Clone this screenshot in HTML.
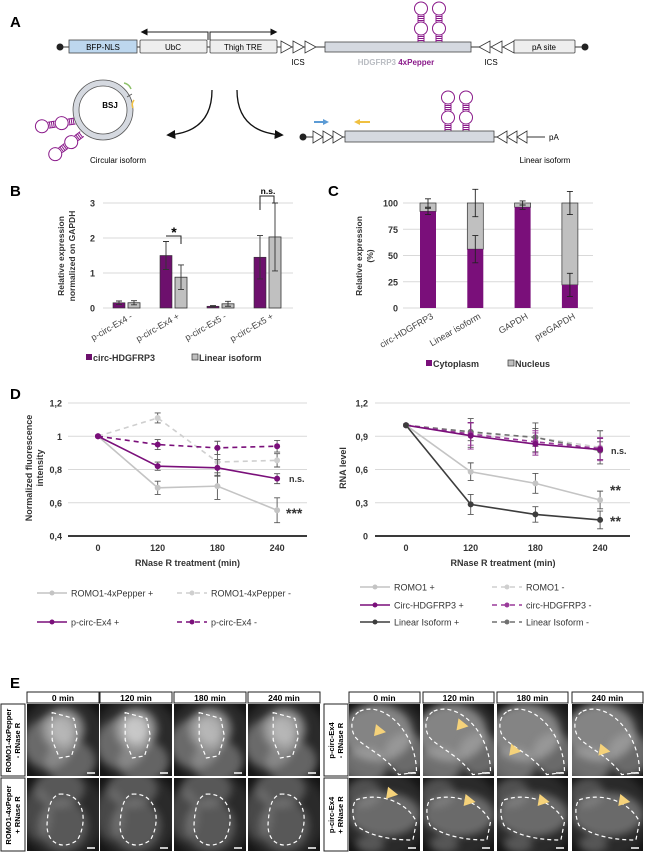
<!DOCTYPE html>
<html><head><meta charset="utf-8">
<style>
html,body{margin:0;padding:0;background:#fff;}
svg{display:block;font-family:"Liberation Sans",Arial,sans-serif;}
</style></head>
<body>
<svg id="fig" width="646" height="854" viewBox="0 0 646 854" xmlns="http://www.w3.org/2000/svg">
<defs>
<marker id="ah" viewBox="0 0 10 10" refX="8" refY="5" markerWidth="7" markerHeight="7" orient="auto"><path d="M0,0 L10,5 L0,10 z" fill="#111"/></marker>
<filter id="bl" x="-50%" y="-50%" width="200%" height="200%"><feGaussianBlur stdDeviation="4"/></filter>
</defs>

<!-- PANEL A -->
<g id="panelA">
<text x="10" y="27" font-size="15" font-weight="bold">A</text>
<line x1="60" y1="47" x2="585" y2="47" stroke="#333" stroke-width="1"/>
<circle cx="60" cy="47" r="3.5" fill="#222"/>
<circle cx="585" cy="47" r="3.5" fill="#222"/>
<rect x="69" y="40" width="68" height="13" fill="#bdd7ee" stroke="#444" stroke-width="0.8"/>
<text x="103" y="50" font-size="8" text-anchor="middle">BFP-NLS</text>
<rect x="140" y="40" width="67" height="13" rx="1" fill="#eeeeee" stroke="#444" stroke-width="0.8"/>
<text x="173" y="50" font-size="8" text-anchor="middle">UbC</text>
<rect x="210" y="40" width="67" height="13" rx="1" fill="#eeeeee" stroke="#444" stroke-width="0.8"/>
<text x="243" y="50" font-size="8" text-anchor="middle">Thigh TRE</text>
<path d="M208,40 V32 H142" fill="none" stroke="#222" stroke-width="1" marker-end="url(#ah)"/>
<path d="M210,40 V32 H276" fill="none" stroke="#222" stroke-width="1" marker-end="url(#ah)"/>
<g fill="#fff" stroke="#333" stroke-width="0.8">
<path d="M281,41 L292,47 L281,53 z"/><path d="M293,41 L304,47 L293,53 z"/><path d="M305,41 L316,47 L305,53 z"/>
<path d="M490,41 L479,47 L490,53 z"/><path d="M502,41 L491,47 L502,53 z"/><path d="M514,41 L503,47 L514,53 z"/>
</g>
<text x="298" y="65" font-size="8" text-anchor="middle">ICS</text>
<text x="491" y="65" font-size="8" text-anchor="middle">ICS</text>
<rect x="325" y="42" width="146" height="10" fill="#d5d9e0" stroke="#444" stroke-width="0.8"/>
<rect x="514" y="40" width="61" height="13" rx="1" fill="#eeeeee" stroke="#444" stroke-width="0.8"/>
<text x="544" y="50" font-size="8" text-anchor="middle">pA site</text>
<text x="396" y="65" font-size="8" text-anchor="middle" font-weight="bold"><tspan fill="#b9bcc2">HDGFRP3 </tspan><tspan fill="#8a1a8a">4xPepper</tspan></text>
<g id="hairpins"></g>
<circle cx="103" cy="110" r="27" fill="none" stroke="#d5d9e0" stroke-width="6"/>
<circle cx="103" cy="110" r="30" fill="none" stroke="#555" stroke-width="0.8"/>
<circle cx="103" cy="110" r="24" fill="none" stroke="#555" stroke-width="0.8"/>
<line x1="127" y1="97" x2="132" y2="94" stroke="#555" stroke-width="0.8"/>
<path d="M124,83 Q129,84 131,89" fill="none" stroke="#8cc068" stroke-width="1.5"/>
<path d="M134,100 Q131,104 133,108" fill="none" stroke="#f0c040" stroke-width="1.5"/>
<text x="110" y="108" font-size="8" font-weight="bold" text-anchor="middle">BSJ</text>
<text x="118" y="163" font-size="8" text-anchor="middle">Circular isoform</text>
<path d="M212,90 Q212,132 168,135" fill="none" stroke="#111" stroke-width="1.3" marker-end="url(#ah)"/>
<path d="M237,90 Q237,132 282,135" fill="none" stroke="#111" stroke-width="1.3" marker-end="url(#ah)"/>
<line x1="303" y1="137" x2="545" y2="137" stroke="#333" stroke-width="1"/>
<circle cx="303" cy="137" r="3.5" fill="#222"/>
<g fill="#fff" stroke="#333" stroke-width="0.8">
<path d="M313,131 L323,137 L313,143 z"/><path d="M323,131 L333,137 L323,143 z"/><path d="M333,131 L343,137 L333,143 z"/>
<path d="M507,131 L497,137 L507,143 z"/><path d="M517,131 L507,137 L517,143 z"/><path d="M527,131 L517,137 L527,143 z"/>
</g>
<rect x="345" y="131" width="149" height="11" fill="#d5d9e0" stroke="#444" stroke-width="0.8"/>
<text x="549" y="140" font-size="8">pA</text>
<path d="M314,122 H326" stroke="#5b9bd5" stroke-width="2"/><path d="M323,119 L329,122 L323,125 z" fill="#5b9bd5"/>
<path d="M360,122 H370" stroke="#f0c040" stroke-width="2"/><path d="M360,119 L354,122 L360,125 z" fill="#f0c040"/>
<text x="545" y="163" font-size="8" text-anchor="middle">Linear isoform</text>
</g>

<g id="panelB"></g>
<g id="panelC"></g>
<g id="panelD1"></g>
<g id="panelD2"></g>
<g id="panelE"></g>
</svg>

<script>
// ===== Panel B data =====
const bCats = ["p-circ-Ex4 -", "p-circ-Ex4 +", "p-circ-Ex5 -", "p-circ-Ex5 +"];
const bCirc = [0.15, 1.5, 0.05, 1.45];
const bCircErr = [0.05, 0.4, 0.02, 0.62];
const bLin = [0.15, 0.88, 0.12, 2.03];
const bLinErr = [0.06, 0.35, 0.07, 0.97];
const bTicks = [0, 1, 2, 3];
// ===== Panel C data =====
const cCats = ["circ-HDGFRP3", "Linear isoform", "GAPDH", "preGAPDH"];
const cCyt = [92, 56, 96, 22];
const cCytErr = [3, 13, 2, 11];
const cNucErr = [4, 13, 2, 11];
const cTicks = [0, 25, 50, 75, 100];
// ===== Panel D data =====
const dCats = ["0", "120", "180", "240"];
const dLeftTicks = [0.4, 0.6, 0.8, 1.0, 1.2];
const dLeftTickLabels = ["0,4", "0,6", "0,8", "1", "1,2"];
const romoPepPlus = [1, 0.69, 0.70, 0.555];
const romoPepPlusErr = [0, 0.04, 0.08, 0.075];
const romoPepMinus = [1, 1.11, 0.845, 0.855];
const romoPepMinusErr = [0, 0.03, 0.08, 0.04];
const pcircPlus = [1, 0.82, 0.81, 0.745];
const pcircPlusErr = [0, 0.025, 0.05, 0.03];
const pcircMinus = [1, 0.95, 0.93, 0.94];
const pcircMinusErr = [0, 0.03, 0.04, 0.035];
const dRightTicks = [0, 0.3, 0.6, 0.9, 1.2];
const dRightTickLabels = ["0", "0,3", "0,6", "0,9", "1,2"];
const romoPlus = [1, 0.58, 0.475, 0.325];
const romoPlusErr = [0, 0.08, 0.09, 0.08];
const romoMinus = [1, 0.93, 0.89, 0.80];
const romoMinusErr = [0, 0.13, 0.13, 0.15];
const circPlus = [1, 0.905, 0.83, 0.78];
const circPlusErr = [0, 0.12, 0.1, 0.1];
const circMinus = [1, 0.92, 0.85, 0.79];
const circMinusErr = [0, 0.1, 0.1, 0.1];
const linPlus = [1, 0.285, 0.195, 0.145];
const linPlusErr = [0, 0.09, 0.07, 0.08];
const linMinus = [1, 0.94, 0.89, 0.77];
const linMinusErr = [0, 0.08, 0.08, 0.08];

const NS = "http://www.w3.org/2000/svg";
function mk(parent, tag, attrs, text) {
  const e = document.createElementNS(NS, tag);
  for (const k in attrs) e.setAttribute(k, attrs[k]);
  if (text !== undefined) e.textContent = text;
  parent.appendChild(e);
  return e;
}
const PURPLE = "#7a0f7a", GRAY = "#c0c0c0";

function hairpin(parent, x, base, transform) {
  const g = mk(parent, "g", {fill: "none", stroke: "#8a1a8a", "stroke-width": "1"});
  
  
  if (transform) g.setAttribute("transform", transform);
  const sw = 3;
  [[base, base - 7], [base - 20, base - 27]].forEach(([a, b]) => {
    mk(g, "line", {x1: x - sw, y1: a, x2: x - sw, y2: b});
    mk(g, "line", {x1: x + sw, y1: a, x2: x + sw, y2: b});
    for (let y = a - 1.5; y > b; y -= 2) mk(g, "line", {x1: x - sw, y1: y, x2: x + sw, y2: y});
  });
  mk(g, "circle", {cx: x, cy: base - 13.5, r: 6.5, fill: "#fff"});
  mk(g, "circle", {cx: x, cy: base - 33.5, r: 6.5, fill: "#fff"});
}
const hp = document.getElementById("hairpins");
hairpin(hp, 421, 42); hairpin(hp, 439, 42);
hairpin(hp, 448, 131); hairpin(hp, 466, 131);
hairpin(hp, 0, 0, "translate(75,121) rotate(-99)");
hairpin(hp, 0, 0, "translate(82,134) rotate(-127)");

// ===== Panel B =====
(function () {
  const g = document.getElementById("panelB");
  const yB = v => 308 - v * 35;
  const xB = i => 127 + 47 * i;
  mk(g, "text", {x: 10, y: 196, "font-size": 15, "font-weight": "bold"}, "B");
  bTicks.forEach(t => {
    mk(g, "line", {x1: 103, x2: 293, y1: yB(t), y2: yB(t), stroke: "#d9d9d9", "stroke-width": 1});
    const tl = mk(g, "text", {x: 95, y: yB(t) + 3.5, "font-size": 9, "font-weight": "bold", "text-anchor": "end", fill: "#333"}, String(t));
    
    
  });
  const yt = mk(g, "text", {transform: "translate(64,256) rotate(-90)", "font-size": 8.5, "font-weight": "bold", "text-anchor": "middle", fill: "#333"});
  
  
  mk(yt, "tspan", {x: 0, dy: 0}, "Relative expression");
  mk(yt, "tspan", {x: 0, dy: 11}, "normalized on GAPDH");
  bCats.forEach((c, i) => {
    const cx = xB(i);
    const r1 = mk(g, "rect", {x: cx - 14, y: yB(bCirc[i]), width: 12, height: yB(0) - yB(bCirc[i]), fill: "#6d106d", stroke: "#333", "stroke-width": 0.6});
    
    
    const r2 = mk(g, "rect", {x: cx + 1, y: yB(bLin[i]), width: 12, height: yB(0) - yB(bLin[i]), fill: GRAY, stroke: "#333", "stroke-width": 0.8});
    
    
    [[cx - 8, bCirc[i], bCircErr[i]], [cx + 7, bLin[i], bLinErr[i]]].forEach(([x, v, e]) => {
      mk(g, "path", {d: `M${x},${yB(v + e)}V${yB(Math.max(0, v - e))}M${x - 3},${yB(v + e)}H${x + 3}M${x - 3},${yB(Math.max(0, v - e))}H${x + 3}`, stroke: "#333", "stroke-width": 0.9, fill: "none"});
    });
    const xl = mk(g, "text", {transform: `translate(${cx + 6},318) rotate(-30)`, "font-size": 9, "text-anchor": "end", fill: "#444"}, c);
    
    
  });
  mk(g, "path", {d: "M166,236 H181 V244", fill: "none", stroke: "#222", "stroke-width": 1});
  mk(g, "text", {x: 174, y: 237, "font-size": 14, "font-weight": "bold", "text-anchor": "middle"}, "*");
  mk(g, "path", {d: "M260,210 V196 H274 V203", fill: "none", stroke: "#222", "stroke-width": 1});
  mk(g, "text", {x: 268, y: 194, "font-size": 8.5, "font-weight": "bold", "text-anchor": "middle"}, "n.s.");
  const l1 = mk(g, "g", {});
  
  
  mk(l1, "rect", {x: 86, y: 354, width: 6, height: 6, fill: "#6d106d"});
  mk(l1, "text", {x: 93, y: 361, "font-size": 9, "font-weight": "bold", fill: "#333"}, "circ-HDGFRP3");
  const l2 = mk(g, "g", {});
  
  
  mk(l2, "rect", {x: 192, y: 354, width: 6, height: 6, fill: GRAY, stroke: "#333", "stroke-width": 0.7});
  mk(l2, "text", {x: 199, y: 361, "font-size": 9, "font-weight": "bold", fill: "#333"}, "Linear isoform");
})();

// ===== Panel C =====
(function () {
  const g = document.getElementById("panelC");
  const yC = v => 308 - v * 1.05;
  const xC = i => 428 + 47.3 * i;
  mk(g, "text", {x: 328, y: 196, "font-size": 15, "font-weight": "bold"}, "C");
  cTicks.forEach(t => {
    mk(g, "line", {x1: 403, x2: 593, y1: yC(t), y2: yC(t), stroke: "#d9d9d9", "stroke-width": 1});
    const tl = mk(g, "text", {x: 398, y: yC(t) + 3.5, "font-size": 9, "font-weight": "bold", "text-anchor": "end", fill: "#333"}, String(t));
    
    
  });
  const yt = mk(g, "text", {transform: "translate(362,256) rotate(-90)", "font-size": 8.5, "font-weight": "bold", "text-anchor": "middle", fill: "#333"});
  
  
  mk(yt, "tspan", {x: 0, dy: 0}, "Relative expression");
  mk(yt, "tspan", {x: 0, dy: 11}, "(%)");
  cCats.forEach((c, i) => {
    const cx = xC(i);
    const n = mk(g, "rect", {x: cx - 8, y: yC(100), width: 16, height: yC(cCyt[i]) - yC(100), fill: GRAY, stroke: "#333", "stroke-width": 0.7});
    
    
    const r = mk(g, "rect", {x: cx - 8, y: yC(cCyt[i]), width: 16, height: yC(0) - yC(cCyt[i]), fill: "#7a0f7a"});
    
    
    [[cCyt[i], cCytErr[i]], [100, cNucErr[i]]].forEach(([v, e]) => {
      mk(g, "path", {d: `M${cx},${yC(v + e)}V${yC(v - e)}M${cx - 3},${yC(v + e)}H${cx + 3}M${cx - 3},${yC(v - e)}H${cx + 3}`, stroke: "#222", "stroke-width": 0.9, fill: "none"});
    });
    const xl = mk(g, "text", {transform: `translate(${cx + 6},318) rotate(-30)`, "font-size": 9, "text-anchor": "end", fill: "#444"}, c);
    
    
  });
  const l1 = mk(g, "g", {});
  
  
  mk(l1, "rect", {x: 426, y: 360, width: 6, height: 6, fill: "#7a0f7a"});
  mk(l1, "text", {x: 433, y: 367, "font-size": 9, "font-weight": "bold", fill: "#333"}, "Cytoplasm");
  const l2 = mk(g, "g", {});
  
  
  mk(l2, "rect", {x: 508, y: 360, width: 6, height: 6, fill: GRAY, stroke: "#333", "stroke-width": 0.7});
  mk(l2, "text", {x: 515, y: 367, "font-size": 9, "font-weight": "bold", fill: "#333"}, "Nucleus");
})();

// ===== Panel D =====
function lineChart(g, cfg) {
  const {x, y, ticks, tickLabels, x1, x2, tickX, series, yTitle, yTitleX} = cfg;
  ticks.forEach((t, k) => {
    if (k > 0) mk(g, "line", {x1: x1, x2: x2, y1: y(t), y2: y(t), stroke: "#d9d9d9", "stroke-width": 1});
    const tl = mk(g, "text", {x: tickX, y: y(t) + 3.5, "font-size": 9, "font-weight": "bold", "text-anchor": "end", fill: "#333"}, tickLabels[k]);
    
    
  });
  mk(g, "line", {x1: x1, x2: x2, y1: y(ticks[0]), y2: y(ticks[0]), stroke: "#3a3a3a", "stroke-width": 2});
  dCats.forEach((c, i) => {
    const tl = mk(g, "text", {x: x(i), y: 551, "font-size": 9, "font-weight": "bold", "text-anchor": "middle", fill: "#333"}, c);
    
    
  });
  const xt = mk(g, "text", {x: (x(0) + x(3)) / 2, y: 566, "font-size": 9, "font-weight": "bold", "text-anchor": "middle", fill: "#333"}, "RNase R treatment (min)");
  
  
  const yt = mk(g, "text", {transform: `translate(${yTitleX},468) rotate(-90)`, "font-size": 9, "font-weight": "bold", "text-anchor": "middle", fill: "#333"});
  
  
  yTitle.forEach((s, k) => mk(yt, "tspan", {x: 0, dy: k ? 11 : 0}, s));
  series.forEach(s => {
    const sg = mk(g, "g", {});
    
    
    s.vals.forEach((v, i) => {
      const e = s.err[i];
      if (e > 0) mk(sg, "path", {d: `M${x(i)},${y(v + e)}V${y(v - e)}M${x(i) - 3},${y(v + e)}H${x(i) + 3}M${x(i) - 3},${y(v - e)}H${x(i) + 3}`, stroke: s.errColor || "#555", "stroke-width": 0.9, fill: "none"});
    });
    const pts = s.vals.map((v, i) => `${x(i)},${y(v)}`).join(" ");
    mk(sg, "polyline", {points: pts, fill: "none", stroke: s.color, "stroke-width": 1.6, "stroke-dasharray": s.dash ? "5,4" : "none"});
    s.vals.forEach((v, i) => mk(sg, "circle", {cx: x(i), cy: y(v), r: 3, fill: s.color}));
  });
}
function legendEntry(g, name, lx, ly, color, dash, label) {
  const e = mk(g, "g", {});
  
  
  mk(e, "line", {x1: lx, x2: lx + 30, y1: ly, y2: ly, stroke: color, "stroke-width": 1.6, "stroke-dasharray": dash ? "5,4" : "none"});
  mk(e, "circle", {cx: lx + 15, cy: ly, r: 2.5, fill: color});
  mk(e, "text", {x: lx + 34, y: ly + 3.5, "font-size": 9, fill: "#333"}, label);
}
(function () {
  const g = document.getElementById("panelD1");
  mk(g, "text", {x: 10, y: 399, "font-size": 15, "font-weight": "bold"}, "D");
  const x = i => 98 + 59.7 * i;
  const y = v => 536 - (v - 0.4) * 166.25;
  lineChart(g, {x, y, ticks: dLeftTicks, tickLabels: dLeftTickLabels, x1: 68, x2: 307, tickX: 62, yTitle: ["Normalized fluorescence", "intensity"], yTitleX: 32,
    series: [
      {name: "series-romo1-4xpepper-minus", vals: romoPepMinus, err: romoPepMinusErr, color: "#cfcfcf", dash: true},
      {name: "series-romo1-4xpepper-plus", vals: romoPepPlus, err: romoPepPlusErr, color: "#c4c4c4"},
      {name: "series-p-circ-ex4-minus", vals: pcircMinus, err: pcircMinusErr, color: PURPLE, dash: true},
      {name: "series-p-circ-ex4-plus", vals: pcircPlus, err: pcircPlusErr, color: PURPLE}
    ]});
  mk(g, "text", {x: 289, y: 482, "font-size": 9, "font-weight": "bold", fill: "#333"}, "n.s.");
  mk(g, "text", {x: 286, y: 518, "font-size": 14, "font-weight": "bold", fill: "#333"}, "***");
  legendEntry(g, "legend-entry-romo1-4xpepper-plus", 37, 593, "#c4c4c4", false, "ROMO1-4xPepper +");
  legendEntry(g, "legend-entry-romo1-4xpepper-minus", 177, 593, "#cfcfcf", true, "ROMO1-4xPepper -");
  legendEntry(g, "legend-entry-p-circ-ex4-plus", 37, 622, PURPLE, false, "p-circ-Ex4 +");
  legendEntry(g, "legend-entry-p-circ-ex4-minus", 177, 622, PURPLE, true, "p-circ-Ex4 -");
})();
(function () {
  const g = document.getElementById("panelD2");
  const x = i => 406 + 64.7 * i;
  const y = v => 536 - v * 110.8;
  lineChart(g, {x, y, ticks: dRightTicks, tickLabels: dRightTickLabels, x1: 375, x2: 630, tickX: 368, yTitle: ["RNA level"], yTitleX: 346,
    series: [
      {name: "series-romo1-minus", vals: romoMinus, err: romoMinusErr, color: "#cfcfcf", dash: true},
      {name: "series-linear-isoform-minus", vals: linMinus, err: linMinusErr, color: "#707070", dash: true},
      {name: "series-circ-hdgfrp3-minus", vals: circMinus, err: circMinusErr, color: "#9a3a9a", dash: true, errColor: "#9a3a9a"},
      {name: "series-circ-hdgfrp3-plus", vals: circPlus, err: circPlusErr, color: PURPLE, errColor: "#8a2a8a"},
      {name: "series-romo1-plus", vals: romoPlus, err: romoPlusErr, color: "#c4c4c4"},
      {name: "series-linear-isoform-plus", vals: linPlus, err: linPlusErr, color: "#3d3d3d"}
    ]});
  mk(g, "text", {x: 611, y: 454, "font-size": 9, "font-weight": "bold", fill: "#333"}, "n.s.");
  mk(g, "text", {x: 610, y: 495, "font-size": 14, "font-weight": "bold", fill: "#333"}, "**");
  mk(g, "text", {x: 610, y: 526, "font-size": 14, "font-weight": "bold", fill: "#333"}, "**");
  legendEntry(g, "legend-entry-romo1-plus", 360, 587, "#c4c4c4", false, "ROMO1 +");
  legendEntry(g, "legend-entry-romo1-minus", 492, 587, "#cfcfcf", true, "ROMO1 -");
  legendEntry(g, "legend-entry-circ-hdgfrp3-plus", 360, 605, PURPLE, false, "Circ-HDGFRP3 +");
  legendEntry(g, "legend-entry-circ-hdgfrp3-minus", 492, 605, "#9a3a9a", true, "circ-HDGFRP3 -");
  legendEntry(g, "legend-entry-linear-isoform-plus", 360, 622, "#3d3d3d", false, "Linear Isoform +");
  legendEntry(g, "legend-entry-linear-isoform-minus", 492, 622, "#707070", true, "Linear Isoform -");
})();

// ===== Panel E =====
(function () {
  const g = document.getElementById("panelE");
  mk(g, "text", {x: 10, y: 688, "font-size": 15, "font-weight": "bold"}, "E");
  const times = ["0 min", "120 min", "180 min", "240 min"];
  const blocks = [
    {labelX: 1, cols: [27, 100, 174, 248], w: 72, rows: ["ROMO1-4xPepper|- RNase R", "ROMO1-4xPeper|+ RNase R"], key: "romo1"},
    {labelX: 324, cols: [349, 423, 497, 572], w: 71, rows: ["p-circ-Ex4|- RNase R", "p-circ-Ex4|+ RNase R"], key: "pcirc"}
  ];
  const rowY = [704, 778], rowH = [73, 74];
  const blobsL1 = [[0.5, 0.35, 0.3, 0.3, 0.7], [0.3, 0.55, 0.35, 0.35, 0.5], [0.6, 0.8, 0.35, 0.3, 0.45]];
  const blobsL2 = [[0.45, 0.15, 0.35, 0.25, 0.45], [0.5, 0.65, 0.35, 0.35, 0.45], [0.15, 0.5, 0.2, 0.35, 0.3]];
  const blobsR1 = [[0.4, 0.4, 0.5, 0.4, 0.7], [0.2, 0.85, 0.35, 0.25, 0.55], [0.8, 0.7, 0.3, 0.3, 0.5]];
  const blobsR2 = [[0.5, 0.5, 0.5, 0.3, 0.5], [0.2, 0.2, 0.25, 0.2, 0.3], [0.3, 0.9, 0.2, 0.12, 0.35]];
  const outL1 = "M0.35,0.12 L0.65,0.2 L0.7,0.45 L0.62,0.72 L0.45,0.75 L0.35,0.5 Z";
  const outL2 = "M0.45,0.22 C0.8,0.2 0.85,0.6 0.7,0.85 C0.5,1.0 0.25,0.9 0.28,0.6 C0.3,0.35 0.35,0.25 0.45,0.22 Z";
  const outR1 = "M0.15,0.1 C0.5,-0.05 0.95,0.4 0.95,0.95 L0.7,0.98 C0.5,0.7 0.2,0.6 0.08,0.45 C0.0,0.3 0.05,0.15 0.15,0.1 Z";
  const outR2 = "M0.1,0.3 C0.4,0.2 0.8,0.3 0.95,0.6 L0.9,0.85 C0.6,0.85 0.3,0.8 0.1,0.65 C0.03,0.5 0.05,0.35 0.1,0.3 Z";
  const cellSet = [[blobsL1, outL1, blobsL2, outL2], [blobsR1, outR1, blobsR2, outR2]];
  const arrowsR = [[[0.38, 0.28], [0.5, 0.2], [0.2, 0.55], [0.4, 0.55]], [[0.55, 0.12], [0.6, 0.22], [0.6, 0.22], [0.68, 0.22]]];
  blocks.forEach((b, bi) => {
    b.cols.forEach((cx, ci) => {
      const h = mk(g, "g", {});
      
      
      mk(h, "rect", {x: cx, y: 692, width: b.w, height: 11, fill: "#fff", stroke: "#222", "stroke-width": 1});
      mk(h, "text", {x: cx + b.w / 2, y: 701, "font-size": 8.5, "font-weight": "bold", "text-anchor": "middle"}, times[ci]);
    });
    b.rows.forEach((lab, ri) => {
      const lg = mk(g, "g", {});
      
      
      mk(lg, "rect", {x: b.labelX, y: rowY[ri], width: 24, height: rowH[ri] - 1, fill: "#fff", stroke: "#222", "stroke-width": 1});
      const parts = lab.split("|");
      const t = mk(lg, "text", {transform: `translate(${b.labelX + 10},${rowY[ri] + rowH[ri] / 2}) rotate(-90)`, "font-size": 7.5, "font-weight": "bold", "text-anchor": "middle"});
      mk(t, "tspan", {x: 0, dy: 0}, parts[0]);
      mk(t, "tspan", {x: 0, dy: 9}, parts[1]);
      b.cols.forEach((cx, ci) => {
        const w = b.w, hh = rowH[ri] - 1;
        const cell = mk(g, "svg", {x: cx, y: rowY[ri], width: w, height: hh});
        
        
        mk(cell, "rect", {x: 0, y: 0, width: w, height: hh, fill: "#141414"});
        mk(cell, "ellipse", {cx: w / 2, cy: hh / 2, rx: w * 0.6, ry: hh * 0.6, fill: "#555", opacity: 0.35, filter: "url(#bl)"});
        const blobs = cellSet[bi][ri * 2];
        const fade = (bi === 0 && ri === 1) ? 0.8 : 1;
        blobs.forEach(bb => mk(cell, "ellipse", {cx: bb[0] * w, cy: bb[1] * hh, rx: bb[2] * w, ry: bb[3] * hh, fill: "#aaa", opacity: bb[4] * fade, filter: "url(#bl)"}));
        if (bi === 0 && ri === 0) mk(cell, "ellipse", {cx: 0.5 * w, cy: 0.35 * hh, rx: 0.18 * w, ry: 0.2 * hh, fill: "#ddd", opacity: ci === 1 ? 0.7 : 0.45, filter: "url(#bl)"});
        const d = cellSet[bi][ri * 2 + 1].replace(/(-?[\d.]+),(-?[\d.]+)/g, (m, a, c) => (a * w).toFixed(1) + "," + (c * hh).toFixed(1));
        mk(cell, "path", {d: d, fill: "none", stroke: "#fff", "stroke-width": 1.2, "stroke-dasharray": "4,3"});
        mk(cell, "line", {x1: w - 12, x2: w - 4, y1: hh - 3, y2: hh - 3, stroke: "#fff", "stroke-width": 1.5});
        if (bi === 1) {
          const [ax, ay] = arrowsR[ri][ci];
          const px = ax * w, py = ay * hh;
          mk(cell, "path", {d: `M${px},${py} l10,8 l-12,4 z`, fill: "#f5d27a"});
        }
      });
    });
  });
})();
</script>
</body></html>
